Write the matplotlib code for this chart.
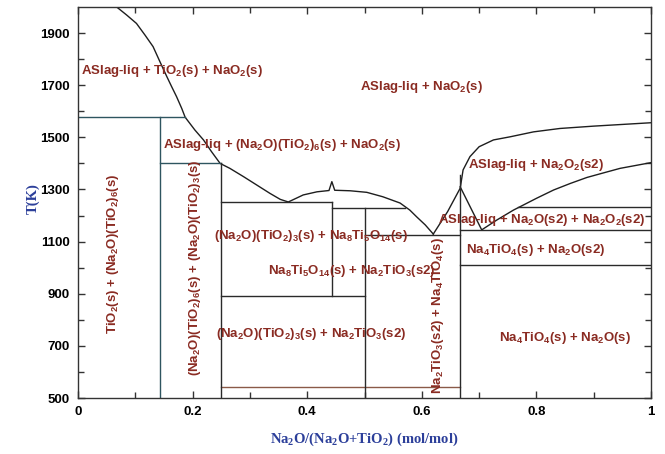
import matplotlib
matplotlib.use("Agg")
import matplotlib.pyplot as plt
import numpy as np

plt.rcParams['font.family'] = ['Liberation Sans', 'DejaVu Sans']
plt.rcParams['mathtext.default'] = 'regular'

# Liquidus curves (x = Na2O/(Na2O+TiO2), T in K)
liq_left_x = [0.0675, 0.085, 0.102, 0.117, 0.131, 0.143, 0.155, 0.1635, 0.172, 0.181, 0.187,
              0.204, 0.219, 0.233, 0.248, 0.265, 0.289, 0.312, 0.335, 0.353, 0.367,
              0.393, 0.417, 0.438, 0.443, 0.448, 0.475, 0.504, 0.532, 0.562, 0.579,
              0.591, 0.606, 0.62]
liq_left_T = [2000, 1969, 1937, 1892, 1848, 1790, 1733, 1694, 1656, 1611, 1577,
              1528, 1490, 1445, 1400, 1381, 1349, 1317, 1285, 1262, 1252,
              1279, 1291, 1296, 1330, 1297, 1295, 1289, 1272, 1248, 1221,
              1195, 1164, 1129]

liq_right_x = [0.62, 0.645, 0.667, 0.672, 0.684, 0.70, 0.725, 0.754, 0.795, 0.841, 0.90, 1.0]
liq_right_T = [1129, 1215, 1305, 1375, 1426, 1464, 1490, 1502, 1521, 1534, 1543, 1556]

low_right_x = [0.667, 0.7045, 0.731, 0.760, 0.80, 0.83, 0.859, 0.888, 0.916, 0.946, 1.0]
low_right_T = [1310, 1145, 1183, 1221, 1266, 1298, 1323, 1346, 1363, 1381, 1403]

# Invariant (horizontal) lines: (x_start, x_end, T)
horiz_box = [(0.0, 0.187, 1577), (0.143, 0.25, 1400)]
horiz_main = [(0.25, 0.444, 1252), (0.444, 0.57, 1230), (0.5, 0.667, 1125),
              (0.25, 0.5, 890), (0.667, 1.0, 1145), (0.768, 1.0, 1234), (0.667, 1.0, 1010)]
horiz_low = [(0.25, 0.667, 543)]

# Compound composition lines: (x, T_bottom, T_top)
vert_box = [(0.143, 500, 1577)]
vert_main = [(0.25, 500, 1400), (0.444, 890, 1252), (0.5, 500, 1230), (0.667, 500, 1355)]

# Phase field labels: (x, T, text, rotation, ha)
labels = [
    (0.005, 1755, r'ASlag-liq + TiO$_2$(s) + NaO$_2$(s)', 0, 'left'),
    (0.599, 1693, r'ASlag-liq + NaO$_2$(s)', 0, 'center'),
    (0.356, 1470, r'ASlag-liq + (Na$_2$O)(TiO$_2$)$_6$(s) + NaO$_2$(s)', 0, 'center'),
    (0.80, 1394, r'ASlag-liq + Na$_2$O$_2$(s2)', 0, 'center'),
    (0.81, 1183, r'ASlag-liq + Na$_2$O(s2) + Na$_2$O$_2$(s2)', 0, 'center'),
    (0.798, 1068, r'Na$_4$TiO$_4$(s) + Na$_2$O(s2)', 0, 'center'),
    (0.85, 730, r'Na$_4$TiO$_4$(s) + Na$_2$O(s)', 0, 'center'),
    (0.407, 1121, r'(Na$_2$O)(TiO$_2$)$_3$(s) + Na$_8$Ti$_5$O$_{14}$(s)', 0, 'center'),
    (0.478, 987, r'Na$_8$Ti$_5$O$_{14}$(s) + Na$_2$TiO$_3$(s2)', 0, 'center'),
    (0.407, 745, r'(Na$_2$O)(TiO$_2$)$_3$(s) + Na$_2$TiO$_3$(s2)', 0, 'center'),
    (0.061, 1052, r'TiO$_2$(s) + (Na$_2$O)(TiO$_2$)$_6$(s)', 90, 'center'),
    (0.204, 999, r'(Na$_2$O)(TiO$_2$)$_6$(s) + (Na$_2$O)(TiO$_2$)$_3$(s)', 90, 'center'),
    (0.628, 818, r'Na$_2$TiO$_3$(s2) + Na$_4$TiO$_4$(s)', 90, 'center'),
]

x_ticks = [0, 0.2, 0.4, 0.6, 0.8, 1]
x_ticklabels = ['0', '0.2', '0.4', '0.6', '0.8', '1']
y_ticks = [500, 700, 900, 1100, 1300, 1500, 1700, 1900]

fig = plt.figure(figsize=(6.65, 4.54), dpi=100)
ax = fig.add_axes([0.1173, 0.1233, 0.8617, 0.8613])

curve_c = '#1e1e1e'
box_c = '#2e5560'
main_c = '#2a2a2a'
low_c = '#8a5a48'

ax.plot(liq_left_x, liq_left_T, color=curve_c, lw=1.0)
ax.plot(liq_right_x, liq_right_T, color=curve_c, lw=1.0)
ax.plot(low_right_x, low_right_T, color=curve_c, lw=1.0)

for x0, x1, t in horiz_box:
    ax.plot([x0, x1], [t, t], color=box_c, lw=1.0)
for x0, x1, t in horiz_main:
    ax.plot([x0, x1], [t, t], color=main_c, lw=1.0)
for x0, x1, t in horiz_low:
    ax.plot([x0, x1], [t, t], color=low_c, lw=1.0)
for x, t0, t1 in vert_box:
    ax.plot([x, x], [t0, t1], color=box_c, lw=1.0)
for x, t0, t1 in vert_main:
    ax.plot([x, x], [t0, t1], color=main_c, lw=1.0)

for x, t, s, rot, ha in labels:
    ax.text(x, t, s, rotation=rot, ha=ha, va='center', color='#8a2b22',
            fontsize=9.5, fontweight='bold')

ax.set_xlim(0, 1)
ax.set_ylim(500, 2000)
ax.set_xticks(x_ticks)
ax.set_xticklabels(x_ticklabels)
ax.set_xticks(np.arange(0.1, 1.0, 0.2), minor=True)
ax.set_yticks(y_ticks)
ax.set_yticks(np.arange(600, 2000, 200), minor=True)
ax.tick_params(which='both', direction='in', top=True, right=True,
               labelsize=9.5, color='#333333', width=1.0)
ax.tick_params(which='major', length=5, pad=6)
ax.tick_params(which='minor', length=4)
for lab in ax.get_xticklabels() + ax.get_yticklabels():
    lab.set_fontweight('bold')
for sp in ax.spines.values():
    sp.set_color('#333333')
    sp.set_linewidth(1.0)

ax.set_xlabel(r'Na$_2$O/(Na$_2$O+TiO$_2$) (mol/mol)', family='Liberation Serif',
              fontweight='bold', color='#2c3f9a', fontsize=10.5, labelpad=9)
ax.set_ylabel('T(K)', family='Liberation Serif', fontweight='bold',
              color='#2c3f9a', fontsize=10.5)
ax.yaxis.set_label_coords(-0.066, 0.51)

fig.savefig('out.png', dpi=100)
